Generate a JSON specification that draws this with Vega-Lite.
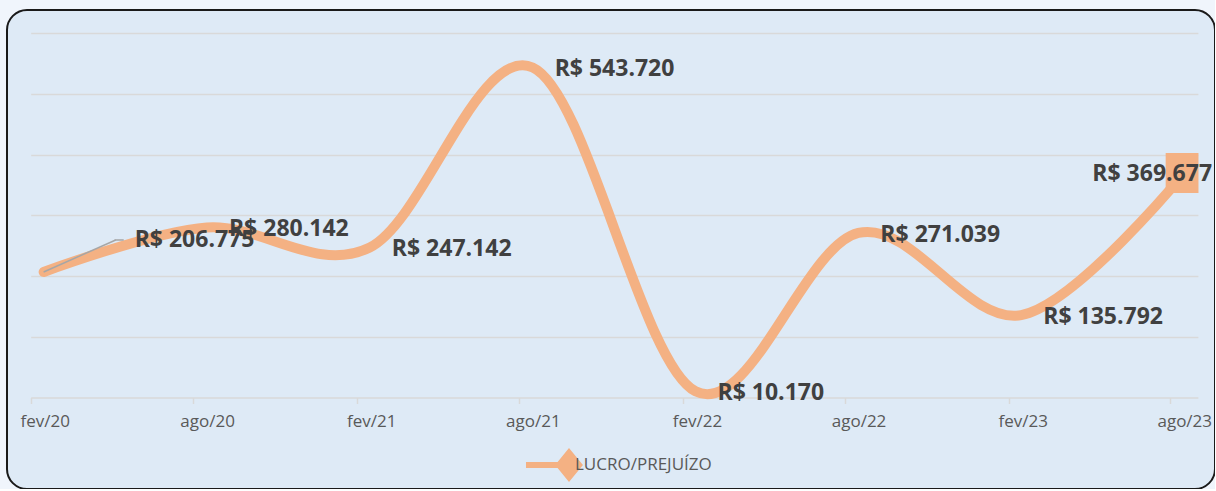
{
  "$schema": "https://vega.github.io/schema/vega-lite/v6.json",
  "width": 1208,
  "height": 479,
  "autosize": "none",
  "padding": {"left": 7, "top": 10, "right": 0, "bottom": 0},
  "background": "#F0F5FC",
  "config": {
    "view": {"fill": "#DEEAF6", "stroke": "#1A1A1A", "strokeWidth": 2, "cornerRadius": 20},
    "locale": {"number": {"decimal": ",", "thousands": ".", "grouping": [3], "currency": ["R$ ", ""]}},
    "font": "Open Sans"
  },
  "data": {
    "values": [
      {"date": "2020-02-01", "value": 206775},
      {"date": "2020-08-01", "value": 280142},
      {"date": "2021-02-01", "value": 247142},
      {"date": "2021-08-01", "value": 543720},
      {"date": "2022-02-01", "value": 10170},
      {"date": "2022-08-01", "value": 271039},
      {"date": "2023-02-01", "value": 135792},
      {"date": "2023-08-01", "value": 369677}
    ]
  },
  "encoding": {
    "x": {
      "field": "date",
      "type": "temporal",
      "timeUnit": "utcyearmonth",
      "bandPosition": 0.5,
      "scale": {
        "type": "utc",
        "domain": [
          {"year": 2020, "month": 2, "date": 1, "utc": true},
          {"year": 2023, "month": 9, "date": 1, "utc": true}
        ],
        "range": [23.7, 1190.9]
      },
      "axis": {
        "title": null,
        "orient": "bottom",
        "offset": -91.5,
        "grid": false,
        "values": [
          {"year": 2020, "month": 2, "date": 1, "utc": true},
          {"year": 2020, "month": 8, "date": 1, "utc": true},
          {"year": 2021, "month": 2, "date": 1, "utc": true},
          {"year": 2021, "month": 8, "date": 1, "utc": true},
          {"year": 2022, "month": 2, "date": 1, "utc": true},
          {"year": 2022, "month": 8, "date": 1, "utc": true},
          {"year": 2023, "month": 2, "date": 1, "utc": true},
          {"year": 2023, "month": 8, "date": 1, "utc": true}
        ],
        "labelExpr": "['jan','fev','mar','abr','mai','jun','jul','ago','set','out','nov','dez'][utcmonth(datum.value)] + '/' + utcFormat(datum.value, '%y')",
        "labelOffset": 14,
        "labelFlush": false,
        "labelOverlap": false,
        "labelFont": "Open Sans",
        "labelFontSize": 17,
        "labelColor": "#595959",
        "labelPadding": 10,
        "tickSize": 6,
        "tickColor": "#D9D9D9",
        "tickWidth": 1.5,
        "domainColor": "#D9D9D9",
        "domainWidth": 1.5
      }
    },
    "y": {
      "field": "value",
      "type": "quantitative",
      "scale": {"domain": [0, 600000], "range": [387.5, 23.3], "nice": false},
      "axis": {
        "title": null,
        "labels": false,
        "ticks": false,
        "domain": false,
        "grid": true,
        "gridColor": "#D9D9D9",
        "gridWidth": 1.5,
        "values": [100000, 200000, 300000, 400000, 500000, 600000]
      }
    }
  },
  "layer": [
    {
      "mark": {"type": "line", "interpolate": "cardinal", "tension": 0, "strokeWidth": 10, "strokeCap": "round", "color": "#F4B183"},
      "encoding": {
        "color": {
          "datum": "LUCRO/PREJUÍZO",
          "type": "nominal",
          "scale": {"range": ["#F4B183"]},
          "legend": {
            "title": null,
            "orient": "none",
            "legendX": 545,
            "legendY": 438,
            "padding": 0,
            "symbolType": "M-2.53,-0.18 L-0.67,-0.18 L0,-1 L0.82,0 L0,1 L-0.67,0.18 L-2.53,0.18 Z",
            "symbolSize": 1156,
            "labelFont": "Open Sans",
            "labelFontSize": 17,
            "labelColor": "#595959",
            "labelOffset": -11,
            "encode": {
              "symbols": {
                "update": {
                  "fill": {"value": "#F4B183"},
                  "stroke": {"value": "#F4B183"},
                  "strokeWidth": {"value": 0},
                  "opacity": {"value": 1}
                }
              }
            }
          }
        }
      }
    },
    {
      "transform": [{"filter": {"field": "date", "timeUnit": "utcyearmonth", "equal": {"year": 2020, "month": 2, "utc": true}}}],
      "mark": {"type": "rule", "color": "#A6A6A6", "strokeWidth": 1.5, "x2Offset": 85, "y2Offset": -32},
      "encoding": {
        "x2": {"field": "date", "timeUnit": "utcyearmonth"},
        "y2": {"field": "value"}
      }
    },
    {
      "transform": [{"filter": {"field": "date", "timeUnit": "utcyearmonth", "equal": {"year": 2020, "month": 2, "utc": true}}}],
      "mark": {"type": "rule", "color": "#A6A6A6", "strokeWidth": 1.5, "xOffset": 71, "yOffset": -32, "x2Offset": 93, "y2Offset": -32},
      "encoding": {
        "x2": {"field": "date", "timeUnit": "utcyearmonth"},
        "y2": {"field": "value"}
      }
    },
    {
      "transform": [{"filter": {"field": "date", "timeUnit": "utcyearmonth", "equal": {"year": 2023, "month": 8, "utc": true}}}],
      "mark": {"type": "point", "shape": "M-0.82,-1 L0.82,-1 L0.82,1 L-0.82,1 Z", "filled": true, "size": 1600, "color": "#F4B183", "opacity": 1, "xOffset": -2}
    },
    {
      "transform": [{"filter": {"field": "date", "timeUnit": "utcyearmonth", "equal": {"year": 2020, "month": 2, "utc": true}}}],
      "mark": {"type": "text", "align": "left", "baseline": "middle", "dx": 91, "dy": -32, "font": "Open Sans", "fontWeight": "bold", "fontSize": 23, "color": "#404040"},
      "encoding": {"text": {"field": "value", "type": "quantitative", "format": "$,.0f"}}
    },
    {
      "transform": [{"filter": "year(datum.date) > 2020 || month(datum.date) > 2"}, {"filter": "year(datum.date) < 2023 || month(datum.date) < 7"}],
      "mark": {"type": "text", "align": "left", "baseline": "middle", "dx": 22, "dy": 2, "font": "Open Sans", "fontWeight": "bold", "fontSize": 23, "color": "#404040"},
      "encoding": {"text": {"field": "value", "type": "quantitative", "format": "$,.0f"}}
    },
    {
      "transform": [{"filter": {"field": "date", "timeUnit": "utcyearmonth", "equal": {"year": 2023, "month": 8, "utc": true}}}],
      "mark": {"type": "text", "align": "right", "baseline": "middle", "dx": 28, "dy": 1, "font": "Open Sans", "fontWeight": "bold", "fontSize": 23, "color": "#404040"},
      "encoding": {"text": {"field": "value", "type": "quantitative", "format": "$,.0f"}}
    }
  ]
}
